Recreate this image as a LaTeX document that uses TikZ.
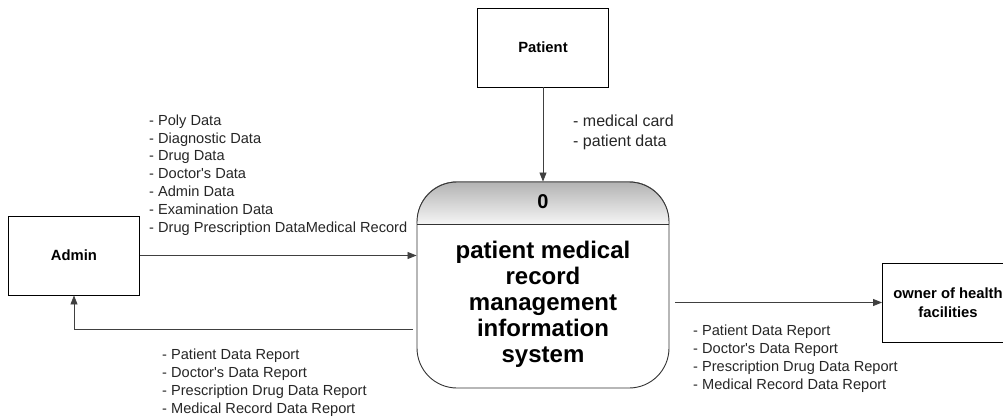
\documentclass[tikz,border=0pt]{standalone}
\usepackage{fontspec}
\setmainfont{Liberation Sans}
\usetikzlibrary{arrows.meta,backgrounds}
\newcommand{\q}{\textquotesingle}
\begin{document}
\begin{tikzpicture}[x=1pt,y=-1pt,
  entity/.style={draw=black, line width=0.9pt, minimum width=131pt, minimum height=79pt,
    font=\bfseries\fontsize{14.8}{19}\selectfont, align=center, inner sep=0pt},
  flow/.style={draw=black!75, line width=0.8pt, -{Triangle[length=9pt,width=7pt]}},
  lbl/.style={font=\fontsize{14.6}{17.8}\selectfont, align=left, anchor=north west, inner sep=0pt, text=black!85},
  proc/.style={draw=black!80, line width=0.9pt, rounded corners=40pt, minimum width=252pt, minimum height=206pt, inner sep=0pt}]
\useasboundingbox (0,0) rectangle (1003,417);

% process
\node[proc] (p) at (543,285) {};
\coordinate (hl) at (417,224);
\coordinate (hr) at (669,224);
\begin{scope}[on background layer]
  \fill[top color=black!30, bottom color=black!4]
    (hl) [rounded corners=40pt] -- (p.north west) -- (p.north east) [sharp corners] -- (hr) -- cycle;
\end{scope}
\draw[draw=black!80, line width=0.9pt] (hl) -- (hr);
\node[font=\bfseries\fontsize{20}{24}\selectfont] (num) at (543,202) {0};
\node[font=\bfseries\fontsize{24}{26}\selectfont, align=center] (ptxt) at (543,304)
  {patient medical\\record\\management\\information\\system};

% entities
\node[entity] (pat) at (543,47.5) {Patient};
\node[entity] (adm) at (74,255.5) {Admin};
\node[entity] (own) at (948,302.5) {owner of health\\facilities};

% flows
\draw[flow] (pat.south) -- (p.north);
\draw[flow] (adm.east) -- (adm.east -| p.west);
\coordinate (rs) at (413,329);
\coordinate (re) at (74,329);
\draw[flow] (rs) -- (re) -- (adm.south);
\coordinate (os) at (675,302.5);
\draw[flow] (os) -- (own.west);

% labels
\node[lbl] (l1) at (149,114.5) {- Poly Data\\- Diagnostic Data\\- Drug Data\\- Doctor\q s Data\\- Admin Data\\- Examination Data\\- Drug Prescription DataMedical Record};
\node[lbl] (l2) at (162,349) {- Patient Data Report\\- Doctor\q s Data Report\\- Prescription Drug Data Report\\- Medical Record Data Report};
\node[lbl] (l3) at (693,325) {- Patient Data Report\\- Doctor\q s Data Report\\- Prescription Drug Data Report\\- Medical Record Data Report};
\node[lbl, font=\fontsize{16}{20}\selectfont] (l4) at (573,115) {- medical card\\- patient data};
\end{tikzpicture}
\end{document}
